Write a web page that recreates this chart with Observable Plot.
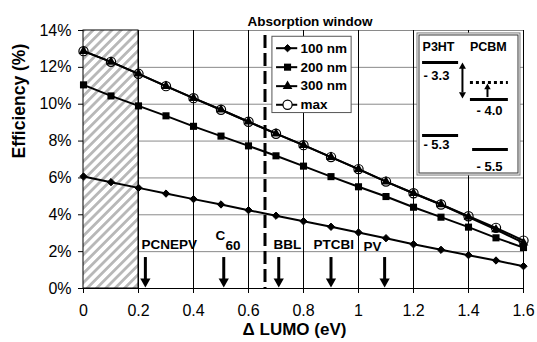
<!DOCTYPE html>
<html><head><meta charset="utf-8">
<script src="https://cdn.jsdelivr.net/npm/d3@7"></script>
<script src="https://cdn.jsdelivr.net/npm/@observablehq/plot@0.6"></script>
<style>body{margin:0;background:#fff}</style>
</head><body><div id="chart"></div>
<script>
// ---------- data ----------
const lumo    = [0, 0.1, 0.2, 0.3, 0.4, 0.5, 0.6, 0.7, 0.8, 0.9, 1.0, 1.1, 1.2, 1.3, 1.4, 1.5, 1.6];
const eff100  = [6.08, 5.77, 5.46, 5.15, 4.85, 4.56, 4.25, 3.95, 3.65, 3.35, 3.04, 2.73, 2.40, 2.10, 1.81, 1.52, 1.21];
const eff200  = [11.05, 10.45, 9.91, 9.37, 8.80, 8.27, 7.74, 7.20, 6.64, 6.07, 5.52, 4.99, 4.41, 3.87, 3.33, 2.75, 2.22];
const eff300  = [12.88, 12.30, 11.65, 10.98, 10.33, 9.70, 9.05, 8.40, 7.78, 7.13, 6.48, 5.80, 5.17, 4.56, 3.88, 3.20, 2.48];
const effMax  = [12.88, 12.30, 11.65, 10.98, 10.33, 9.70, 9.05, 8.40, 7.78, 7.13, 6.48, 5.80, 5.17, 4.56, 3.92, 3.29, 2.60];
const seriesNames = ["100 nm", "200 nm", "300 nm", "max"];
const xTicks = [0, 0.2, 0.4, 0.6, 0.8, 1, 1.2, 1.4, 1.6];
const yTicks = [0, 2, 4, 6, 8, 10, 12, 14];
const acceptorNames = ["PCNEPV", "C", "BBL", "PTCBI", "PV"];
const acceptorLUMO  = [0.225, 0.51, 0.71, 0.90, 1.095];
const windowEdge = 0.66;
const materials = ["P3HT", "PCBM"];
const p3htLevels = [-3.3, -5.3];
const pcbmLevels = [-4.0, -5.5];

// ---------- layout (annotation placement, not data) ----------
const serie = [eff100, eff200, eff300, effMax];
const rows = serie.flatMap((vals, i) => vals.map((v, j) => ({series: seriesNames[i], x: lumo[j], y: v})));
const FONT = "'Liberation Sans', Arial, sans-serif";

const downTri = {draw(ctx, size) { const r = Math.sqrt(size / Math.PI), w = 2.7 * r, h = 2.4 * r;
  ctx.moveTo(0, 0); ctx.lineTo(-w / 2, -h); ctx.lineTo(w / 2, -h); ctx.closePath(); }};
const upTri = {draw(ctx, size) { const r = Math.sqrt(size / Math.PI), w = 2.7 * r, h = 2.4 * r;
  ctx.moveTo(0, 0); ctx.lineTo(-w / 2, h); ctx.lineTo(w / 2, h); ctx.closePath(); }};

const styles = {
  "100 nm": {symbol: "diamond2", r: 3.3, fill: "black", stroke: "black", strokeWidth: 1},
  "200 nm": {symbol: "square", r: 4, fill: "black", stroke: "none"},
  "300 nm": {symbol: "triangle", r: 3.6, fill: "black", stroke: "none"},
  "max":    {symbol: "circle", r: 4.6, fill: "none", stroke: "black", strokeWidth: 1.2}
};

// acceptor arrows
const arrows = acceptorNames.map((n, i) => ({name: n, x: acceptorLUMO[i]}));
const arrowLabels = [
  {t: "PCNEPV", x: 0.211, y: 2.39}, {t: "C", x: 0.48, y: 2.86}, {t: "60", x: 0.516, y: 2.30},
  {t: "BBL", x: 0.691, y: 2.39}, {t: "PTCBI", x: 0.836, y: 2.39}, {t: "PV", x: 1.018, y: 2.26}
];

// legend
const legendRows = [13.04, 12.01, 10.98, 9.97].map((y, i) => ({name: seriesNames[i], y}));
const legBox = [{x1: 0.687, x2: 0.975, y1: 9.52, y2: 13.66}];

// inset
const insetOuter = [{x1: 1.2145, x2: 1.589, y1: 6.13, y2: 13.84}];
const insetInner = [{x1: 1.2218, x2: 1.5818, y1: 6.24, y2: 13.73}];
const insetHeads = [{t: materials[0], x: 1.291}, {t: materials[1], x: 1.472}];
const insetLevels = [
  {e: p3htLevels[0], x1: 1.233, x2: 1.364, y: 12.26, tx: 1.236, ty: 11.56},
  {e: p3htLevels[1], x1: 1.233, x2: 1.364, y: 8.30, tx: 1.236, ty: 7.81},
  {e: pcbmLevels[0], x1: 1.407, x2: 1.545, y: 10.26, tx: 1.429, ty: 9.62},
  {e: pcbmLevels[1], x1: 1.415, x2: 1.545, y: 7.54, tx: 1.429, ty: 6.58}
];

const bold = {fontWeight: "bold", fill: "black", fontFamily: FONT};

const marks = [
  Plot.gridY(yTicks.filter(d => d > 0), {stroke: "#8a8a8a", strokeOpacity: 1}),
  Plot.gridX(xTicks.filter(d => d > 0), {stroke: "black", strokeOpacity: 1}),
  Plot.rect([{x1: 0, x2: 0.2, y1: 0, y2: 14}], {x1: "x1", x2: "x2", y1: "y1", y2: "y2", fill: "url(#hatch)", stroke: "black", strokeWidth: 1}),
  Plot.ruleY([0], {stroke: "black"}),
  Plot.axisX(xTicks, {tickSize: 5, tickPadding: 11, fontSize: 16, label: null, tickFormat: d => String(d)}),
  Plot.axisY(yTicks, {tickSize: 5, tickPadding: 7, fontSize: 16, label: null, tickFormat: d => d + "%"}),
  Plot.line(rows, {x: "x", y: "y", z: "series", stroke: "black", strokeWidth: 2}),
  ...seriesNames.map(s => Plot.dot(rows.filter(d => d.series === s), {x: "x", y: "y", ...styles[s]})),
  Plot.ruleX([windowEdge], {y1: 14, y2: 0, stroke: "black", strokeWidth: 3, strokeDasharray: "13,5", strokeDashoffset: -5}),
  // acceptor arrows
  Plot.ruleX(arrows, {x: "x", y1: 1.68, y2: 0.45, stroke: "black", strokeWidth: 3}),
  Plot.dot(arrows, {x: "x", y: 0.05, symbol: downTri, r: 3.8, fill: "black", stroke: "none"}),
  Plot.text(arrowLabels, {x: "x", y: "y", text: "t", textAnchor: "start", fontSize: 13.5, ...bold}),
  // legend
  Plot.rect(legBox, {x1: "x1", x2: "x2", y1: "y1", y2: "y2", fill: "white", stroke: "#555", strokeWidth: 1}),
  Plot.ruleY(legendRows, {y: "y", x1: 0.702, x2: 0.779, stroke: "black", strokeWidth: 2}),
  ...seriesNames.map(s => Plot.dot(legendRows.filter(d => d.name === s), {x: 0.742, y: "y", ...styles[s], ...(s === "max" ? {fill: "white"} : {})})),
  Plot.text(legendRows, {x: 0.789, y: "y", text: "name", textAnchor: "start", fontSize: 13.5, ...bold}),
  Plot.text(["Absorption window"], {x: 0.8236, y: 14.5, fontSize: 13.5, ...bold}),
  // inset
  Plot.rect(insetOuter, {x1: "x1", x2: "x2", y1: "y1", y2: "y2", fill: "white", stroke: "#777", strokeWidth: 1}),
  Plot.rect(insetInner, {x1: "x1", x2: "x2", y1: "y1", y2: "y2", fill: "none", stroke: "#333", strokeWidth: 1}),
  Plot.text(insetHeads, {x: "x", y: 13.09, text: "t", fontSize: 12.5, ...bold}),
  Plot.ruleY(insetLevels, {y: "y", x1: "x1", x2: "x2", stroke: "black", strokeWidth: 3}),
  Plot.text(insetLevels, {x: "tx", y: "ty", text: d => "- " + Math.abs(d.e).toFixed(1), textAnchor: "start", fontSize: 13, ...bold}),
  Plot.ruleY([11.18], {x1: 1.407, x2: 1.545, stroke: "black", strokeWidth: 3, strokeDasharray: "3,3"}),
  Plot.ruleX([1.378], {y1: 11.95, y2: 10.62, stroke: "black", strokeWidth: 2}),
  Plot.dot([12.26], {x: 1.378, y: d => d, symbol: upTri, r: 2.6, fill: "black", stroke: "none"}),
  Plot.dot([10.31], {x: 1.378, y: d => d, symbol: downTri, r: 2.6, fill: "black", stroke: "none"}),
  Plot.ruleX([1.469], {y1: 10.36, y2: 10.85, stroke: "black", strokeWidth: 2}),
  Plot.dot([11.12], {x: 1.469, y: d => d, symbol: upTri, r: 2.4, fill: "black", stroke: "none"}),
  // axis titles
  Plot.text(["Efficiency (%)"], {frameAnchor: "left", rotate: -90, dx: -64, dy: -1, fontSize: 17.5, ...bold}),
  Plot.text(["\u0394 LUMO (eV)"], {frameAnchor: "bottom", dx: -9, dy: 46.5, fontSize: 17, ...bold})
];

const svg = Plot.plot({
  width: 537, height: 342,
  marginLeft: 83, marginRight: 14, marginTop: 30, marginBottom: 54,
  x: {domain: [0, 1.6]},
  y: {domain: [0, 14]},
  style: {fontFamily: FONT, fontSize: "16px", color: "black", background: "white"},
  marks
});

const defs = d3.select(svg).insert("defs", ":first-child");
const pat = defs.append("pattern").attr("id", "hatch").attr("patternUnits", "userSpaceOnUse")
  .attr("width", 6.6).attr("height", 6.6).attr("patternTransform", "rotate(45)");
pat.append("rect").attr("width", 6.6).attr("height", 6.6).attr("fill", "white");
pat.append("rect").attr("x", 0).attr("width", 2.8).attr("height", 6.6).attr("fill", "#b8b8b8");

document.getElementById("chart").appendChild(svg);
</script>
</body></html>
